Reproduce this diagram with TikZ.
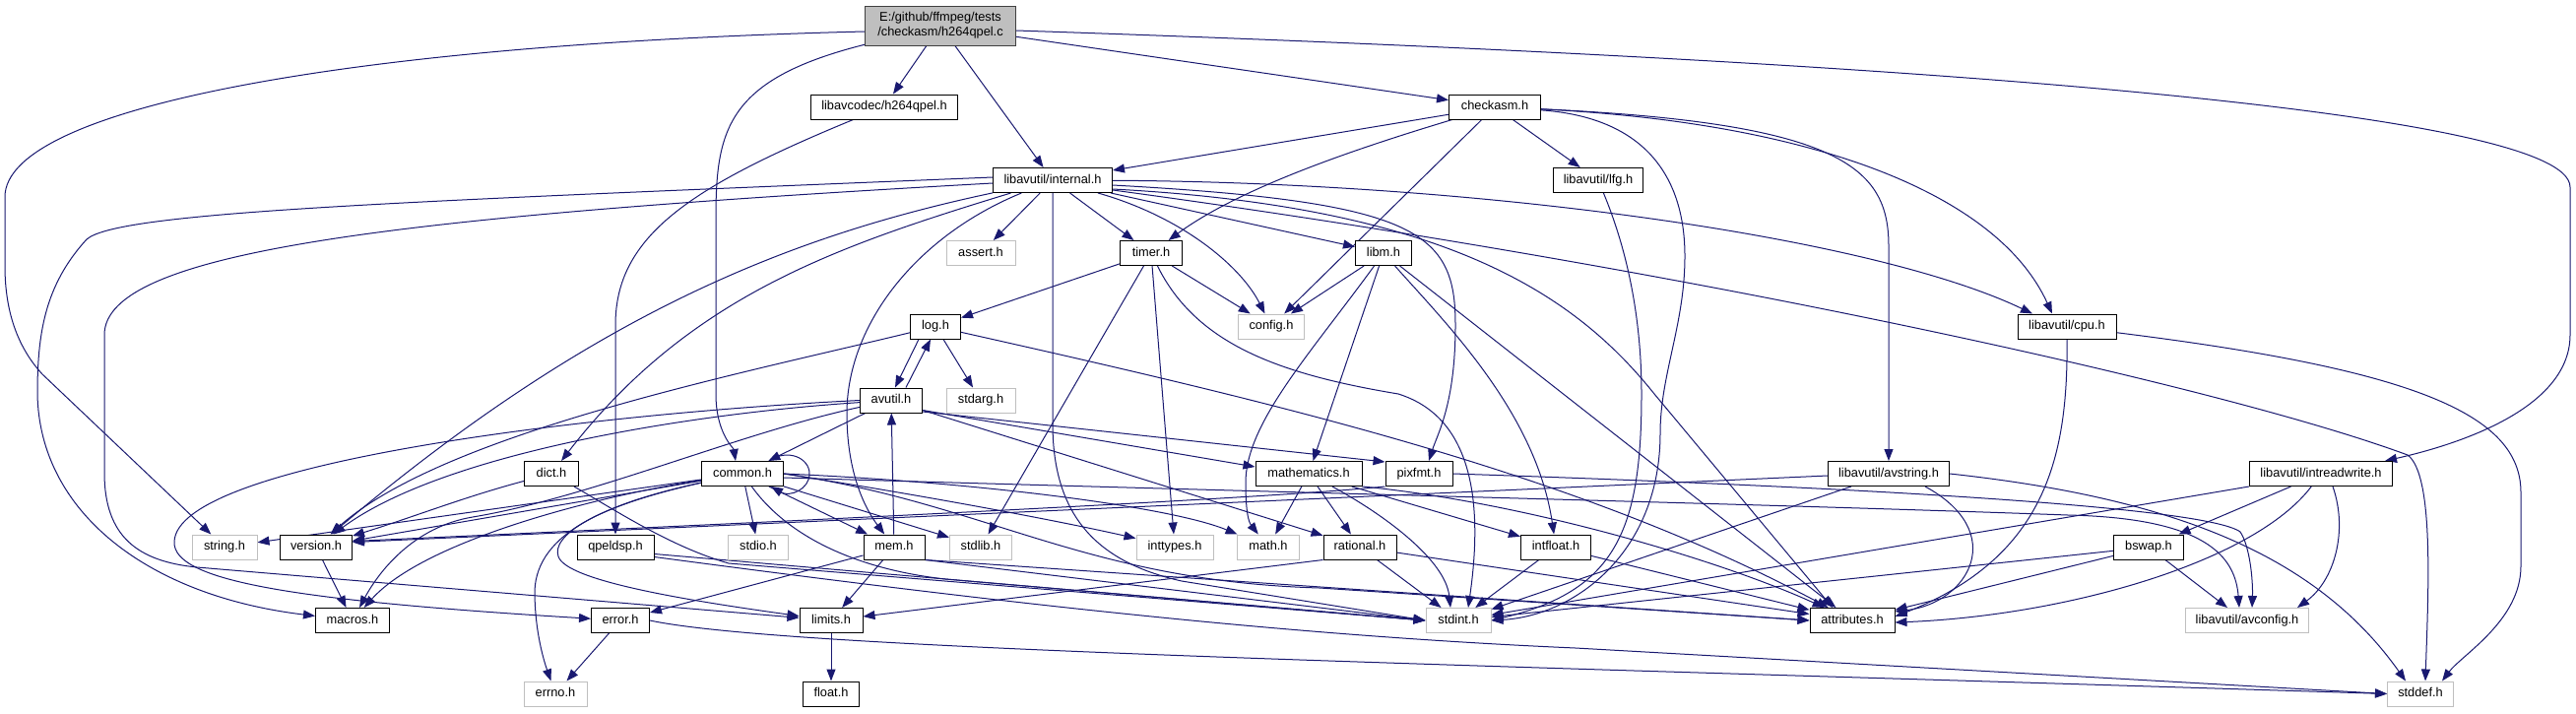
\documentclass[tikz,border=0pt]{standalone}
\usepackage{fontspec}
\newfontfamily\dfont{Liberation Sans}
\usetikzlibrary{arrows.meta,backgrounds}
\definecolor{edgec}{HTML}{191970}
\definecolor{grayb}{HTML}{BFBFBF}
\definecolor{grayd}{HTML}{404040}
\begin{document}
\begin{tikzpicture}[x=1pt,y=-1pt,
  hn/.style={draw=black, fill=white, line width=1pt, minimum height=25pt, inner sep=0pt,
    font=\dfont\fontsize{12.8pt}{15pt}\selectfont, text height=9.4pt, text depth=2.6pt},
  gn/.style={hn, draw=grayb},
  mn/.style={hn, fill=grayb, draw=grayd, align=center, minimum height=40pt, text height=, text depth=},
  edge/.style={draw=edgec, line width=1pt, -{Triangle[length=12pt,width=9pt]}}]
\useasboundingbox (0,0) rectangle (2616,724);
% ---------------- nodes
\node[mn, minimum width=153pt] (main) at (955,26) {E:/github/ffmpeg/tests\\/checkasm/h264qpel.c};
\node[hn, minimum width=149pt] (hqpel) at (898,108.5) {libavcodec/h264qpel.h};
\node[hn, minimum width=93pt] (checkasm) at (1518,108.5) {checkasm.h};
\node[hn, minimum width=121pt] (internal) at (1069,183) {libavutil/internal.h};
\node[hn, minimum width=91pt] (lfg) at (1623,183) {libavutil/lfg.h};
\node[gn, minimum width=70pt] (assert) at (996,257) {assert.h};
\node[hn, minimum width=63pt] (timer) at (1169,257) {timer.h};
\node[hn, minimum width=57pt] (libm) at (1405,257) {libm.h};
\node[hn, minimum width=51pt] (log) at (950,331.5) {log.h};
\node[gn, minimum width=67pt] (config) at (1291,331.5) {config.h};
\node[hn, minimum width=100pt] (cpu) at (2099,331.5) {libavutil/cpu.h};
\node[hn, minimum width=63pt] (avutil) at (905,406.5) {avutil.h};
\node[gn, minimum width=70pt] (stdarg) at (996,406.5) {stdarg.h};
\node[hn, minimum width=55pt] (dict) at (560,481) {dict.h};
\node[hn, minimum width=83pt] (common) at (754,481) {common.h};
\node[hn, minimum width=108pt] (mathem) at (1329,481) {mathematics.h};
\node[hn, minimum width=68pt] (pixfmt) at (1441,481) {pixfmt.h};
\node[hn, minimum width=123pt] (avstring) at (1918,481) {libavutil/avstring.h};
\node[hn, minimum width=145pt] (intrw) at (2357,481) {libavutil/intreadwrite.h};
\node[gn, minimum width=66pt] (string) at (228,555.5) {string.h};
\node[hn, minimum width=73pt] (version) at (321,555.5) {version.h};
\node[hn, minimum width=78pt] (qpeldsp) at (625,555.5) {qpeldsp.h};
\node[gn, minimum width=61pt] (stdio) at (770,555.5) {stdio.h};
\node[hn, minimum width=62pt] (mem) at (908,555.5) {mem.h};
\node[gn, minimum width=63pt] (stdlib) at (996,555.5) {stdlib.h};
\node[gn, minimum width=78pt] (inttypes) at (1193,555.5) {inttypes.h};
\node[gn, minimum width=63pt] (math) at (1288,555.5) {math.h};
\node[hn, minimum width=74pt] (rational) at (1381,555.5) {rational.h};
\node[hn, minimum width=71pt] (intfloat) at (1580,555.5) {intfloat.h};
\node[hn, minimum width=71pt] (bswap) at (2182,555.5) {bswap.h};
\node[hn, minimum width=75pt] (macros) at (358,630) {macros.h};
\node[hn, minimum width=59pt] (error) at (630,630) {error.h};
\node[hn, minimum width=64pt] (limits) at (844,630) {limits.h};
\node[gn, minimum width=66pt] (stdint) at (1481,630) {stdint.h};
\node[hn, minimum width=86pt] (attrib) at (1881,630) {attributes.h};
\node[gn, minimum width=125pt] (avconfig) at (2282,630) {libavutil/avconfig.h};
\node[gn, minimum width=64pt] (errno) at (564,704.5) {errno.h};
\node[hn, minimum width=57pt] (float) at (844,704.5) {float.h};
\node[gn, minimum width=67pt] (stddef) at (2458,704.5) {stddef.h};
% ---------------- edges
\begin{scope}[on background layer]
\fill[white] (0,0) rectangle (2616,724);
% main
\draw[edge] ([yshift=-6pt]main.west) .. controls (350,45) and (5,110) .. (5,200) -- (5,270) .. controls (5,320) and (20,355) .. (43,380) -- (string);
\draw[edge] (main) -- (hqpel);
\draw[edge] (main) -- (internal);
\draw[edge] (main) -- (checkasm);
\draw[edge] (main) .. controls (740,80) and (727,130) .. (727,220) -- (727,400) .. controls (727,440) and (745,455) .. ([xshift=-7pt]common.north);
\draw[edge] ([yshift=-5pt]main.east) .. controls (1900,60) and (2610,110) .. (2610,190) -- (2610,340) .. controls (2610,420) and (2480,455) .. ([xshift=-8pt]intrw.north east);
% checkasm
\draw[edge] (checkasm) -- (internal);
\draw[edge] (checkasm) .. controls (1380,150) and (1260,190) .. (timer);
\draw[edge] (checkasm) -- (config);
\draw[edge] (checkasm) -- (lfg);
\draw[edge] (checkasm) .. controls (1680,120) and (1711,190) .. (1711,260) .. controls (1711,330) and (1686,380) .. (1686,440) .. controls (1686,560) and (1600,625) .. (stdint.east);
\draw[edge] (checkasm) .. controls (1850,125) and (2030,200) .. ([xshift=-15pt]cpu.north);
\draw[edge] (checkasm) .. controls (1870,125) and (1918,170) .. (1918,250) -- (avstring);
% h264qpel
\draw[edge] (hqpel) .. controls (700,190) and (625,240) .. (625,330) -- (qpeldsp);
% lfg
\draw[edge] (lfg) .. controls (1655,260) and (1667,330) .. (1667,400) .. controls (1667,540) and (1640,600) .. (stdint.east);
% internal
\draw[edge] (internal) -- (assert);
\draw[edge] (internal) -- (timer);
\draw[edge] (internal) .. controls (1200,220) and (1260,270) .. (config);
\draw[edge] (internal) .. controls (930,240) and (860,330) .. (860,420) .. controls (860,490) and (885,525) .. (mem);
\draw[edge] (internal) -- (1069,430) .. controls (1069,520) and (1110,570) .. (1200,590) -- (stdint.west);
\draw[edge] (internal) -- (libm);
\draw[edge] ([yshift=-5pt]internal.east) .. controls (1440,205) and (1478,235) .. (1478,330) .. controls (1478,410) and (1460,440) .. ([xshift=10pt]pixfmt.north);
\draw[edge] ([yshift=-9pt]internal.east) .. controls (1470,210) and (1600,300) .. (1680,400) -- ([xshift=-20pt]attrib.north);
\draw[edge] (internal) .. controls (1500,185) and (1900,240) .. ([xshift=-35pt]cpu.north);
\draw[edge] ([yshift=-10pt]internal.east) .. controls (1700,270) and (2250,390) .. (2445,462) .. controls (2472,482) and (2466,600) .. ([xshift=5pt]stddef.north);
\draw[edge] (internal) .. controls (800,240) and (600,320) .. (version);
\draw[edge] (internal) .. controls (850,250) and (700,300) .. (dict);
\draw[edge] ([yshift=3pt]internal.west) .. controls (400,205) and (120,215) .. (88,243) .. controls (45,290) and (38,340) .. (38,400) .. controls (40,520) and (150,605) .. (macros);
\draw[edge] ([yshift=-3pt]internal.west) .. controls (400,220) and (106,255) .. (106,340) -- (106,480) .. controls (106,545) and (140,570) .. (200,576) -- (limits);
% timer
\draw[edge] (timer) -- (log);
\draw[edge] (timer) -- (config);
\draw[edge] (timer) -- (stdlib);
\draw[edge] (timer) -- (inttypes);
\draw[edge] (timer) .. controls (1215,350) and (1300,380) .. (1420,400) .. controls (1500,425) and (1505,520) .. ([xshift=10pt]stdint.north);
% libm
\draw[edge] (libm) -- (config);
\draw[edge] (libm) .. controls (1330,360) and (1265,430) .. (1265,490) .. controls (1265,520) and (1268,530) .. (math);
\draw[edge] (libm) -- (mathem);
\draw[edge] (libm) .. controls (1470,330) and (1560,420) .. (intfloat);
\draw[edge] (libm) -- (attrib);
% log
\draw[edge] ([xshift=-17pt]log.south) -- ([xshift=4pt]avutil.north);
\draw[edge] (log) -- (stdarg);
\draw[edge] (log) .. controls (750,380) and (450,440) .. (version);
\draw[edge] (log) .. controls (1300,410) and (1600,480) .. (attrib);
% avutil
\draw[edge] ([xshift=15pt]avutil.north) -- ([xshift=-5pt]log.south);
\draw[edge] (avutil) -- (common);
\draw[edge] (avutil.west) .. controls (600,420) and (180,470) .. (177,550) .. controls (175,590) and (300,610) .. (error);
\draw[edge] (avutil) .. controls (700,420) and (450,460) .. (version);
\draw[edge] (avutil) .. controls (750,440) and (600,505) .. (480,525) .. controls (420,535) and (385,580) .. (macros);
\draw[edge] (avutil) -- (rational);
\draw[edge] ([yshift=-10pt]avutil.east) -- ([yshift=7pt]mathem.west);
\draw[edge] ([yshift=-11.5pt]avutil.east) -- ([yshift=12pt]pixfmt.west);
% mem
\draw[edge] (mem) -- (avutil);
\draw[edge] (mem) -- (error);
\draw[edge] (mem) -- (limits);
\draw[edge] (mem.south east) -- (stdint.west);
\draw[edge] (mem.south east) -- (attrib.west);
% common
\draw[edge] ([xshift=-15pt]common.north east) .. controls (800,455) and (822,465) .. (822,481) .. controls (822,497) and (802,505) .. ([xshift=-13pt]common.south east);
\draw[edge] (common) -- (mem);
\draw[edge] (common) -- (stdio);
\draw[edge] (common) -- (stdlib);
\draw[edge] (common.east) .. controls (950,505) and (1080,530) .. (inttypes);
\draw[edge] (common.east) .. controls (1000,490) and (1190,515) .. (math);
\draw[edge] (common) .. controls (800,545) and (870,578) .. (960,588) -- (stdint.west);
\draw[edge] (common.east) .. controls (1000,510) and (1100,590) .. (1340,597) -- (attrib.west);
\draw[edge] ([yshift=-4pt]common.east) .. controls (1300,500) and (1800,512) .. (2100,523) .. controls (2240,526) and (2270,565) .. ([xshift=-8pt]avconfig.north);
\draw[edge] (common) -- (string);
\draw[edge] (common) -- (version);
\draw[edge] (common) .. controls (600,505) and (430,550) .. (macros);
\draw[edge] (common) .. controls (620,510) and (545,540) .. (543,600) .. controls (543,640) and (552,670) .. (errno);
\draw[edge] (common) .. controls (600,515) and (560,545) .. (567,565) .. controls (575,590) and (700,610) .. (limits);
% dict
\draw[edge] (dict) .. controls (470,505) and (420,525) .. (version);
\draw[edge] (dict) .. controls (620,515) and (680,555) .. (740,572) -- (stdint.west);
% mathematics
\draw[edge] (mathem) -- (math);
\draw[edge] (mathem) -- (rational);
\draw[edge] (mathem) .. controls (1410,525) and (1468,570) .. ([xshift=-8pt]stdint.north);
\draw[edge] (mathem) -- (intfloat);
\draw[edge] (mathem.south east) .. controls (1550,510) and (1750,570) .. (attrib);
% rational, intfloat
\draw[edge] (rational) -- (stdint);
\draw[edge] (rational.south west) -- (limits);
\draw[edge] (rational) -- (attrib);
\draw[edge] (intfloat) -- (stdint);
\draw[edge] (intfloat) -- (attrib);
% pixfmt
\draw[edge] (pixfmt.south west) .. controls (1300,505) and (900,525) .. ([yshift=6pt]version.east);
\draw[edge] (pixfmt.east) .. controls (1900,495) and (2240,515) .. (2275,540) .. controls (2285,555) and (2288,590) .. ([xshift=5pt]avconfig.north);
% avstring
\draw[edge] ([yshift=-2pt]avstring.west) -- ([yshift=5pt]version.east);
\draw[edge] (avstring) -- (stdint);
\draw[edge] ([xshift=-25pt]avstring.south east) .. controls (2040,540) and (2000,612) .. ([yshift=9pt]attrib.east);
\draw[edge] (avstring.east) .. controls (2200,505) and (2350,560) .. ([xshift=-15pt]stddef.north);
% intreadwrite
\draw[edge] (intrw.south west) -- (stdint);
\draw[edge] (intrw) -- (bswap);
\draw[edge] (intrw) .. controls (2290,570) and (2100,625) .. ([yshift=-2pt]attrib.east);
\draw[edge] ([xshift=12pt]intrw.south) .. controls (2385,540) and (2370,590) .. ([xshift=-12pt]avconfig.north east);
% bswap
\draw[edge] (bswap) -- (stdint);
\draw[edge] (bswap) -- (attrib);
\draw[edge] (bswap) -- ([xshift=-20pt]avconfig.north);
% cpu
\draw[edge] (cpu) .. controls (2100,460) and (2080,565) .. ([yshift=4pt]attrib.east);
\draw[edge] (cpu) .. controls (2450,375) and (2560,420) .. (2560,500) -- (2560,575) .. controls (2560,630) and (2500,665) .. ([xshift=22pt]stddef.north);
% qpeldsp
\draw[edge] ([yshift=-7pt]qpeldsp.east) -- (stdint.west);
\draw[edge] ([yshift=-10pt]qpeldsp.east) .. controls (1000,610) and (1300,645) .. (1600,658) -- (stddef.west);
% others
\draw[edge] (error) -- (errno);
\draw[edge] (error.east) .. controls (800,660) and (1500,675) .. (stddef.west);
\draw[edge] (limits) -- (float);
\draw[edge] (version) -- (macros);
\end{scope}
\end{tikzpicture}
\end{document}
